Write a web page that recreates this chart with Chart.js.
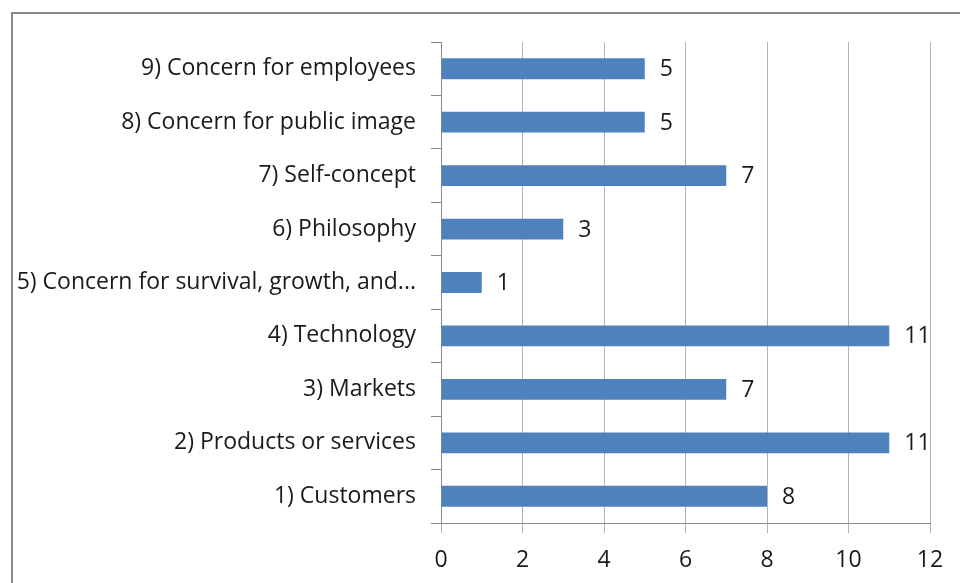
<!DOCTYPE html>
<html>
<head>
<meta charset="utf-8">
<script src="https://cdn.jsdelivr.net/npm/chart.js@4"></script>
<style>
  html, body { margin: 0; padding: 0; background: #fff; overflow: hidden; }
  #frame { position: absolute; left: 11px; top: 12px; width: 1000px; height: 1000px; border: 2px solid #8a8a8a; }
  #wrap { position: absolute; left: 0; top: 0; width: 960px; height: 583px; }
</style>
</head>
<body>
<div id="frame"></div>
<div id="wrap"><canvas id="missionChart" width="960" height="583"></canvas></div>
<script>
// Mission statement components
var categories = [
    '1) Customers',
    '2) Products or services',
    '3) Markets',
    '4) Technology',
    '5) Concern for survival, growth, and...',
    '6) Philosophy',
    '7) Self-concept',
    '8) Concern for public image',
    '9) Concern for employees'
];
var counts = [8, 11, 7, 11, 1, 3, 7, 5, 5];
var xTicks = [0, 2, 4, 6, 8, 10, 12];

var FONT = { family: 'Open Sans', size: 23 };
var TEXT = '#1a1a1a';

// draws the number at the end of each bar
var barValues = {
    id: 'barValues',
    afterDatasetsDraw: function (chart) {
        var ctx = chart.ctx;
        ctx.save();
        ctx.font = FONT.size + 'px ' + FONT.family;
        ctx.fillStyle = TEXT;
        ctx.textAlign = 'left';
        ctx.textBaseline = 'middle';
        chart.getDatasetMeta(0).data.forEach(function (bar, i) {
            ctx.fillText(String(counts[i]), bar.x + 15, bar.y + 1);
        });
        ctx.restore();
    }
};

var ctx = document.getElementById('missionChart').getContext('2d');
var missionChart = new Chart(ctx, {
    type: 'bar',
    data: {
        labels: categories,
        datasets: [{
            data: counts,
            backgroundColor: '#4f81bd',
            borderWidth: 0,
            categoryPercentage: 1,
            barPercentage: 0.39
        }]
    },
    options: {
        indexAxis: 'y',
        responsive: false,
        animation: false,
        layout: { padding: { top: 42, right: 30, left: 0, bottom: 0 } },
        plugins: {
            legend: { display: false },
            tooltip: { enabled: false }
        },
        scales: {
            x: {
                min: xTicks[0],
                max: xTicks[xTicks.length - 1],
                afterBuildTicks: function (scale) {
                    scale.ticks = xTicks.map(function (v) { return { value: v }; });
                },
                grid: { color: '#b3b3b3', tickLength: 10, lineWidth: 1 },
                border: { color: '#8a8a8a' },
                ticks: { font: FONT, color: TEXT, padding: 14 },
                afterFit: function (scale) { scale.height = 60; }
            },
            y: {
                reverse: true,
                grid: { drawOnChartArea: false, tickLength: 10, color: '#8a8a8a', offset: true },
                border: { color: '#8a8a8a' },
                ticks: { font: FONT, color: TEXT, padding: 15, autoSkip: false },
                afterFit: function (scale) { scale.width = 441; }
            }
        }
    },
    plugins: [barValues]
});
</script>
</body>
</html>
